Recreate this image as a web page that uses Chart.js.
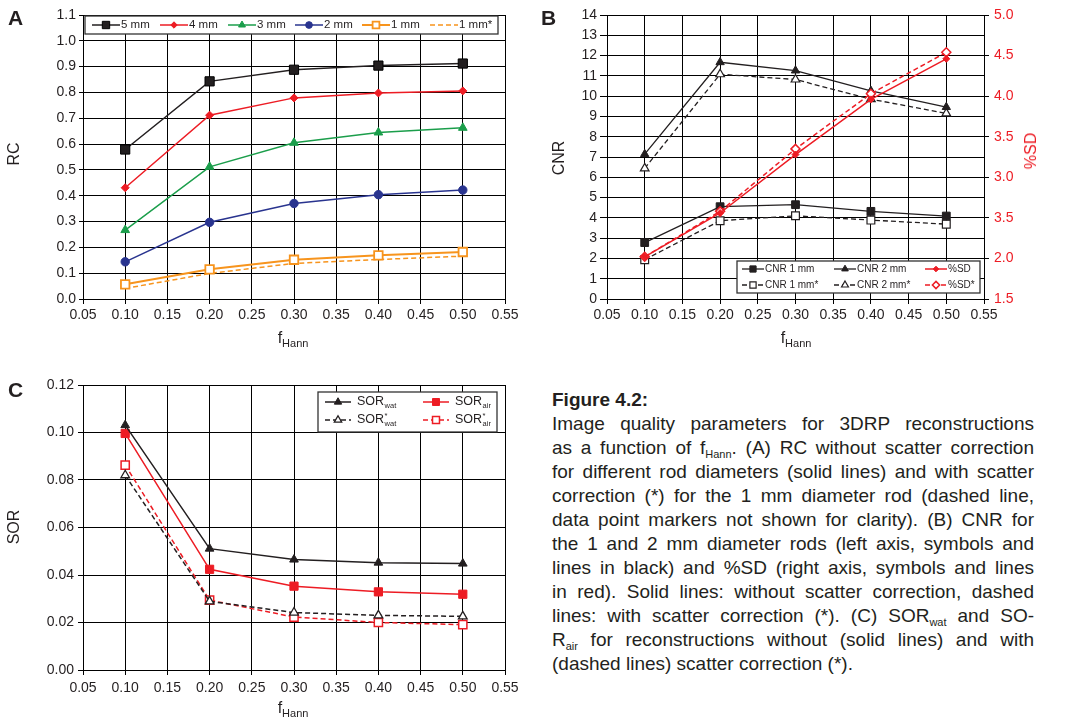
<!DOCTYPE html>
<html>
<head>
<meta charset="utf-8">
<script src="https://cdn.jsdelivr.net/npm/chart.js"></script>
<style>
  body { margin: 0; background: #fff; width: 1081px; height: 721px; position: relative; overflow: hidden;
         font-family: "Liberation Sans", Arial, sans-serif; color: #231f20; }
  canvas { position: absolute; }
  .lbl { position: absolute; white-space: nowrap; }
  .panel { font-weight: bold; font-size: 21px; line-height: 21px; }
  .ytitle { font-size: 16px; line-height: 16px; transform: translate(-50%, -50%) rotate(-90deg); }
  .xtitle { font-size: 16px; line-height: 16px; transform: translateX(-50%); }
  .xtitle sub, #caption sub { font-size: 11px; vertical-align: -4px; line-height: 0; }
  #caption { position: absolute; left: 552px; top: 388px; width: 482px; font-size: 19px; line-height: 24px; color: #231f20; }
  #caption div { white-space: nowrap; text-align: justify; text-align-last: justify; }
  #caption div.last, #caption div.head { text-align-last: left; }
  #caption div.head { font-weight: bold; }
</style>
</head>
<body>
<canvas id="chartA" width="530" height="330" style="left:0;top:0"></canvas>
<canvas id="chartB" width="551" height="330" style="left:530px;top:0"></canvas>
<canvas id="chartC" width="530" height="331" style="left:0;top:370px"></canvas>

<div class="lbl panel" style="left:8px;top:7px">A</div>
<div class="lbl panel" style="left:541px;top:7px">B</div>
<div class="lbl panel" style="left:8px;top:379px">C</div>

<div class="lbl ytitle" style="left:14px;top:154px">RC</div>
<div class="lbl ytitle" style="left:559px;top:158px">CNR</div>
<div class="lbl ytitle" style="left:1031px;top:151px;color:#ed1c24">%SD</div>
<div class="lbl ytitle" style="left:14px;top:527px">SOR</div>
<div class="lbl xtitle" style="left:293px;top:330px">f<sub>Hann</sub></div>
<div class="lbl xtitle" style="left:796px;top:330px">f<sub>Hann</sub></div>
<div class="lbl xtitle" style="left:293px;top:700px">f<sub>Hann</sub></div>

<div id="caption">
  <div class="head">Figure 4.2:</div>
  <div>Image quality parameters for 3DRP reconstructions</div>
  <div>as a function of f<sub>Hann</sub>. (A) RC without scatter correction</div>
  <div>for different rod diameters (solid lines) and with scatter</div>
  <div>correction (*) for the 1 mm diameter rod (dashed line,</div>
  <div>data point markers not shown for clarity). (B) CNR for</div>
  <div>the 1 and 2 mm diameter rods (left axis, symbols and</div>
  <div>lines in black) and %SD (right axis, symbols and lines</div>
  <div>in red). Solid lines: without scatter correction, dashed</div>
  <div>lines: with scatter correction (*). (C) SOR<sub>wat</sub> and SO-</div>
  <div>R<sub>air</sub> for reconstructions without (solid lines) and with</div>
  <div class="last">(dashed lines) scatter correction (*).</div>
</div>

<script>
// shared x values
const fHann = [0.10, 0.20, 0.30, 0.40, 0.50];

// panel A: RC
const rc5mm = [0.579, 0.843, 0.888, 0.904, 0.912];
const rc4mm = [0.431, 0.712, 0.779, 0.798, 0.806];
const rc3mm = [0.267, 0.512, 0.605, 0.645, 0.663];
const rc2mm = [0.144, 0.297, 0.370, 0.404, 0.422];
const rc1mm = [0.057, 0.115, 0.152, 0.169, 0.182];
const rc1mmSc = [0.041, 0.099, 0.138, 0.153, 0.166];

// panel B: CNR and %SD
const cnr1mm = [2.78, 4.55, 4.65, 4.32, 4.09];
const cnr2mm = [7.14, 11.67, 11.26, 10.26, 9.46];
const cnr1mmSc = [1.94, 3.86, 4.10, 3.89, 3.69];
const cnr2mmSc = [6.44, 11.08, 10.82, 9.85, 9.15];
const sd = [2.02, 2.56, 3.28, 3.96, 4.46];
const sdSc = [2.02, 2.58, 3.35, 4.03, 4.54];
const sdTickLabels = ['1.5', '2.0', '3.5', '3.0', '3.5', '4.0', '4.5', '5.0'];

// panel C: SOR
const sorWat = [0.1031, 0.0511, 0.0465, 0.0452, 0.0448];
const sorAir = [0.0996, 0.0424, 0.0353, 0.0329, 0.0319];
const sorWatSc = [0.0820, 0.0289, 0.0242, 0.0230, 0.0226];
const sorAirSc = [0.0863, 0.0294, 0.0223, 0.0200, 0.0191];

const FAMILY = '"Liberation Sans", Arial, sans-serif';
const BLACK = '#231f20';
const RED = '#ed1c24';

function pts(ys) {
  return fHann.map((x, i) => ({ x: x, y: ys[i] }));
}

function series(label, ys, color, o) {
  return Object.assign({
    label: label,
    data: pts(ys),
    borderColor: color,
    backgroundColor: color,
    borderWidth: 1.5,
    borderDash: [],
    pointStyle: 'rect',
    pointRadius: 5,
    pointHoverRadius: 0,
    pointBackgroundColor: color,
    pointBorderColor: color,
    pointBorderWidth: 1,
    tension: 0,
    fill: false
  }, o || {});
}

// legend drawn inside a framed box at fixed canvas coordinates
const boxLegend = {
  id: 'boxLegend',
  afterDraw(chart, args, opts) {
    if (!opts || !opts.items) return;
    const ctx = chart.ctx;
    ctx.save();
    ctx.fillStyle = '#fff';
    ctx.fillRect(opts.x, opts.y, opts.w, opts.h);
    ctx.strokeStyle = '#333';
    ctx.lineWidth = 1.3;
    ctx.strokeRect(opts.x, opts.y, opts.w, opts.h);
    opts.items.forEach(it => {
      const ds = chart.data.datasets[it.ds];
      ctx.beginPath();
      ctx.setLineDash(ds.borderDash || []);
      ctx.strokeStyle = ds.borderColor;
      ctx.lineWidth = ds.borderWidth;
      ctx.moveTo(it.x, it.y);
      ctx.lineTo(it.x + opts.lineLen, it.y);
      ctx.stroke();
      ctx.setLineDash([]);
      if (ds.pointRadius > 0) {
        ctx.fillStyle = ds.pointBackgroundColor;
        ctx.strokeStyle = ds.pointBorderColor;
        ctx.lineWidth = ds.pointBorderWidth;
        Chart.helpers.drawPoint(ctx, {
          pointStyle: ds.pointStyle,
          radius: ds.pointRadius * opts.markerScale,
          rotation: 0,
          borderWidth: ds.pointBorderWidth
        }, it.x + opts.lineLen / 2, it.y);
      }
      const tx = it.x + opts.lineLen + opts.gap;
      ctx.fillStyle = '#231f20';
      ctx.textBaseline = 'middle';
      ctx.textAlign = 'left';
      ctx.font = opts.fontSize + 'px ' + FAMILY;
      ctx.fillText(it.text, tx, it.y);
      if (it.sub || it.sup) {
        const w = ctx.measureText(it.text).width;
        ctx.font = (opts.fontSize * 0.6) + 'px ' + FAMILY;
        if (it.sub) ctx.fillText(it.sub, tx + w + 0.5, it.y + opts.fontSize * 0.32);
        if (it.sup) ctx.fillText(it.sup, tx + w + 0.5, it.y - opts.fontSize * 0.3);
      }
    });
    ctx.restore();
  }
};

function xScale(pad) {
  return {
    type: 'linear', min: 0.05, max: 0.55,
    ticks: { stepSize: 0.05, autoSkip: false, maxRotation: 0, padding: pad,
             color: BLACK, font: { family: FAMILY, size: 14 },
             callback: v => v.toFixed(2) },
    grid: { color: '#000', lineWidth: 1, tickLength: 5 },
    border: { color: '#000', width: 1 },
    afterFit: s => { s.height = 31; }
  };
}

function yScale(min, max, step, digits, width, tickLen, pad) {
  return {
    type: 'linear', position: 'left', min: min, max: max,
    ticks: { stepSize: step, autoSkip: false, padding: pad,
             color: BLACK, font: { family: FAMILY, size: 14 },
             callback: v => v.toFixed(digits) },
    grid: { color: '#000', lineWidth: 1, tickLength: tickLen },
    border: { color: '#000', width: 1 },
    afterFit: s => { s.width = width; }
  };
}

function baseOptions(scales, padding, legend) {
  return {
    responsive: false,
    animation: false,
    events: [],
    layout: { padding: padding },
    scales: scales,
    plugins: { legend: { display: false }, tooltip: { enabled: false }, boxLegend: legend }
  };
}

// ---- panel A
new Chart(document.getElementById('chartA'), {
  type: 'line',
  data: {
    datasets: [
      series('5 mm', rc5mm, BLACK, { pointRadius: 6.5, pointBorderColor: '#000' }),
      series('4 mm', rc4mm, RED, { pointStyle: 'rectRot', pointRadius: 4 }),
      series('3 mm', rc3mm, '#1b9e4b', { pointStyle: 'triangle', pointRadius: 5 }),
      series('2 mm', rc2mm, '#29348f', { pointStyle: 'circle', pointRadius: 4.2 }),
      series('1 mm', rc1mm, '#f7941d', { pointRadius: 6, pointBackgroundColor: '#fff', pointBorderWidth: 1.8, borderWidth: 2 }),
      series('1 mm*', rc1mmSc, '#f7941d', { pointRadius: 0, borderDash: [5, 3] })
    ]
  },
  options: baseOptions(
    { x: xScale(3), y: yScale(0, 1.1, 0.1, 1, 83, 4, 3) },
    { top: 15, right: 25, bottom: 0, left: 0 },
    {
      x: 85, y: 16, w: 413, h: 18, lineLen: 28, gap: 1, fontSize: 11.5, markerScale: 0.8,
      items: [
        { ds: 0, x: 92, y: 25, text: '5 mm' },
        { ds: 1, x: 160, y: 25, text: '4 mm' },
        { ds: 2, x: 228, y: 25, text: '3 mm' },
        { ds: 3, x: 295, y: 25, text: '2 mm' },
        { ds: 4, x: 362, y: 25, text: '1 mm' },
        { ds: 5, x: 430, y: 25, text: '1 mm*' }
      ]
    }
  ),
  plugins: [boxLegend]
});

// ---- panel B
const scalesB = {
  x: xScale(3),
  y: yScale(0, 14, 1, 0, 77, 7, 3),
  y1: {
    type: 'linear', position: 'right', min: 1.5, max: 5.0,
    ticks: { stepSize: 0.5, autoSkip: false, padding: 5,
             color: RED, font: { family: FAMILY, size: 14 },
             callback: (v, i) => sdTickLabels[i] },
    grid: { drawOnChartArea: false, color: '#000', tickLength: 5 },
    border: { color: '#000', width: 1 },
    afterFit: s => { s.width = 97; }
  }
};
new Chart(document.getElementById('chartB'), {
  type: 'line',
  data: {
    datasets: [
      series('%SD', sd, RED, { pointStyle: 'rectRot', pointRadius: 3.5, yAxisID: 'y1' }),
      series('%SD*', sdSc, RED, { pointStyle: 'rectRot', pointRadius: 4.5, pointBackgroundColor: '#fff', pointBorderWidth: 1.5, borderDash: [5, 3], yAxisID: 'y1' }),
      series('CNR 1 mm', cnr1mm, BLACK, { pointRadius: 5.5, borderWidth: 1.3 }),
      series('CNR 2 mm', cnr2mm, BLACK, { pointStyle: 'triangle', pointRadius: 4.8, borderWidth: 1.3 }),
      series('CNR 1 mm*', cnr1mmSc, BLACK, { pointRadius: 5.5, pointBackgroundColor: '#fff', pointBorderWidth: 1.2, borderWidth: 1.3, borderDash: [5, 3] }),
      series('CNR 2 mm*', cnr2mmSc, BLACK, { pointStyle: 'triangle', pointRadius: 5, pointBackgroundColor: '#fff', pointBorderWidth: 1.2, borderWidth: 1.3, borderDash: [5, 3] })
    ]
  },
  options: baseOptions(
    scalesB,
    { top: 15, right: 0, bottom: 0, left: 0 },
    {
      x: 207, y: 261, w: 243, h: 32, lineLen: 22, gap: 1, fontSize: 10, markerScale: 0.8,
      items: [
        { ds: 2, x: 212, y: 269, text: 'CNR 1 mm' },
        { ds: 3, x: 304, y: 269, text: 'CNR 2 mm' },
        { ds: 0, x: 395, y: 269, text: '%SD' },
        { ds: 4, x: 212, y: 285, text: 'CNR 1 mm*' },
        { ds: 5, x: 304, y: 285, text: 'CNR 2 mm*' },
        { ds: 1, x: 395, y: 285, text: '%SD*' }
      ]
    }
  ),
  plugins: [boxLegend]
});

// ---- panel C
new Chart(document.getElementById('chartC'), {
  type: 'line',
  data: {
    datasets: [
      series('SORwat', sorWat, BLACK, { pointStyle: 'triangle', pointRadius: 5 }),
      series('SORair', sorAir, RED, { pointRadius: 5.8 }),
      series('SORwat*', sorWatSc, BLACK, { pointStyle: 'triangle', pointRadius: 5, pointBackgroundColor: '#fff', pointBorderWidth: 1.3, borderDash: [5, 3] }),
      series('SORair*', sorAirSc, RED, { pointRadius: 5.8, pointBackgroundColor: '#fff', pointBorderWidth: 1.5, borderDash: [5, 3] })
    ]
  },
  options: baseOptions(
    { x: xScale(5), y: yScale(0, 0.12, 0.02, 2, 83, 5, 4) },
    { top: 15, right: 25, bottom: 0, left: 0 },
    {
      x: 318, y: 22, w: 179, h: 40, lineLen: 26, gap: 6, fontSize: 12.5, markerScale: 0.85,
      items: [
        { ds: 0, x: 325, y: 32, text: 'SOR', sub: 'wat' },
        { ds: 1, x: 423, y: 32, text: 'SOR', sub: 'air' },
        { ds: 2, x: 325, y: 50, text: 'SOR', sub: 'wat', sup: '*' },
        { ds: 3, x: 423, y: 50, text: 'SOR', sub: 'air', sup: '*' }
      ]
    }
  ),
  plugins: [boxLegend]
});
</script>
</body>
</html>
